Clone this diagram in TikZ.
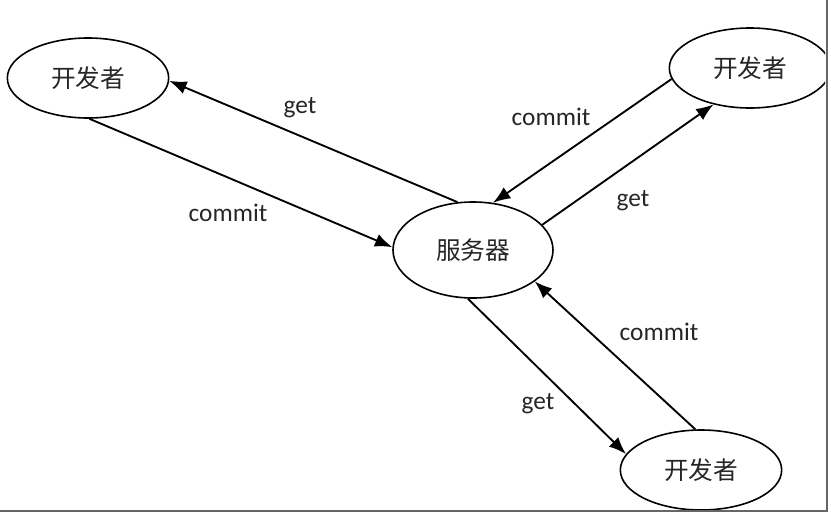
\documentclass[tikz,border=0pt]{standalone}
\usepackage{fontspec}
\newfontfamily\cjk{Noto Sans CJK SC}
\newfontfamily\lbl{Carlito}
\usepackage{tikz}
\usetikzlibrary{shapes.geometric,arrows.meta}

\begin{document}
\begin{tikzpicture}[x=0.75pt, y=-0.75pt,
    party/.style={draw, ellipse, line width=1.2pt, inner sep=0,
      minimum width=121pt, minimum height=60pt,
      font=\cjk\fontsize{18.5}{20}\selectfont, text=black!85},
    flow/.style={-{Latex[length=13pt, width=10pt]}, line width=1.4pt},
    tag/.style={font=\lbl\fontsize{19}{22}\selectfont, text=black!85}]
  \useasboundingbox (0,0) rectangle (831,514);
  \begin{scope}
    \clip (0,0) rectangle (825,509);
    \node[party] (devA) at (88,78) {开发者};
    \node[party] (devB) at (750,68) {开发者};
    \node[party] (devC) at (701,470) {开发者};
    \node[party, minimum width=120pt, minimum height=72pt] (server) at (473,250) {服务器};
  \end{scope}
  % server <-> devA
  \draw[flow] (server.108) -- (devA.-2);
  \draw[flow] (devA.-88) -- (server.178);
  % server <-> devB
  \draw[flow] (devB.188) -- (server.67);
  \draw[flow] (server.20) -- (devB.-135);
  % server <-> devC
  \draw[flow] (server.-96) -- (devC.168);
  \draw[flow] (devC.98) -- (server.-27);
  \node[tag] at (300,108) {get};
  \node[tag] at (228,213) {commit};
  \node[tag] at (551,117) {commit};
  \node[tag] at (633,201) {get};
  \node[tag] at (538,404) {get};
  \node[tag] at (659,332) {commit};
  % frame
  \draw[black!60, line width=2pt] (827,0) -- (827,511) -- (0,511);
\end{tikzpicture}
\end{document}
